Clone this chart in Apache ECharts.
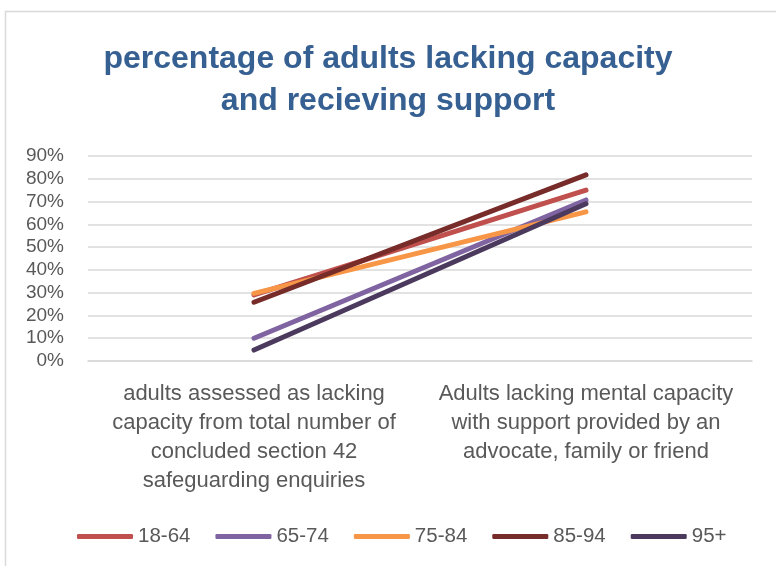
<!DOCTYPE html>
<html><head><meta charset="utf-8">
<script src="https://cdn.jsdelivr.net/npm/echarts@6/dist/echarts.min.js"></script>
<style>html,body{margin:0;padding:0;background:#fff}#c{width:776px;height:566px}</style>
</head><body><div id="c"></div>
<script>
const categories = ['adults assessed as lacking\ncapacity from total number of\nconcluded section 42\nsafeguarding enquiries',
  'Adults lacking mental capacity\nwith support provided by an\nadvocate, family or friend'];
const seriesNames = ['18-64','65-74','75-84','85-94','95+'];
const v1864 = [29, 75];
const v6574 = [10, 70.7];
const v7584 = [29.7, 65.5];
const v8594 = [25.8, 81.7];
const v95 = [4.8, 69];
const colors = ['#c0504d','#8064a2','#f79646','#772c2a','#4b3a5e'];
const allVals = [v1864, v6574, v7584, v8594, v95];
const font = 'Liberation Sans, sans-serif';
const chart = echarts.init(document.getElementById('c'));
chart.setOption({
  animation: false,
  graphic: [{type:'rect', shape:{x:5.5,y:11.5,width:800,height:560}, style:{fill:'none', stroke:'#d9d9d9', lineWidth:1.5}}],
  title: {text:'percentage of adults lacking capacity\nand recieving support', left:'center', top:33,
    textStyle:{fontFamily:font, fontWeight:'bold', fontSize:32, color:'#376092', lineHeight:42}},
  grid: {left:88, right:24, top:156, bottom:205},
  legend: {bottom:14, left:72, itemWidth:56, itemHeight:5, itemGap:25, icon:'roundRect',
    textStyle:{fontFamily:font, fontSize:20.5, color:'#595959'}, data: seriesNames},
  xAxis: {type:'category', data:categories, boundaryGap:true,
    axisLine:{lineStyle:{color:'#d9d9d9', width:1.5}}, axisTick:{show:false},
    axisLabel:{fontFamily:font, fontSize:22, color:'#595959', lineHeight:29, margin:18, interval:0}},
  yAxis: {type:'value', min:0, max:90, interval:10,
    axisLine:{show:false}, axisTick:{show:false},
    axisLabel:{fontFamily:font, fontSize:19, color:'#595959', formatter: v => v + '%', margin:24},
    splitLine:{lineStyle:{color:'#d9d9d9', width:1.5}}},
  series: seriesNames.map((n,i) => ({name:n, type:'line', data:allVals[i], symbol:'none',
    lineStyle:{color:colors[i], width:5, cap:'round'}, itemStyle:{color:colors[i]}}))
});
</script></body></html>
